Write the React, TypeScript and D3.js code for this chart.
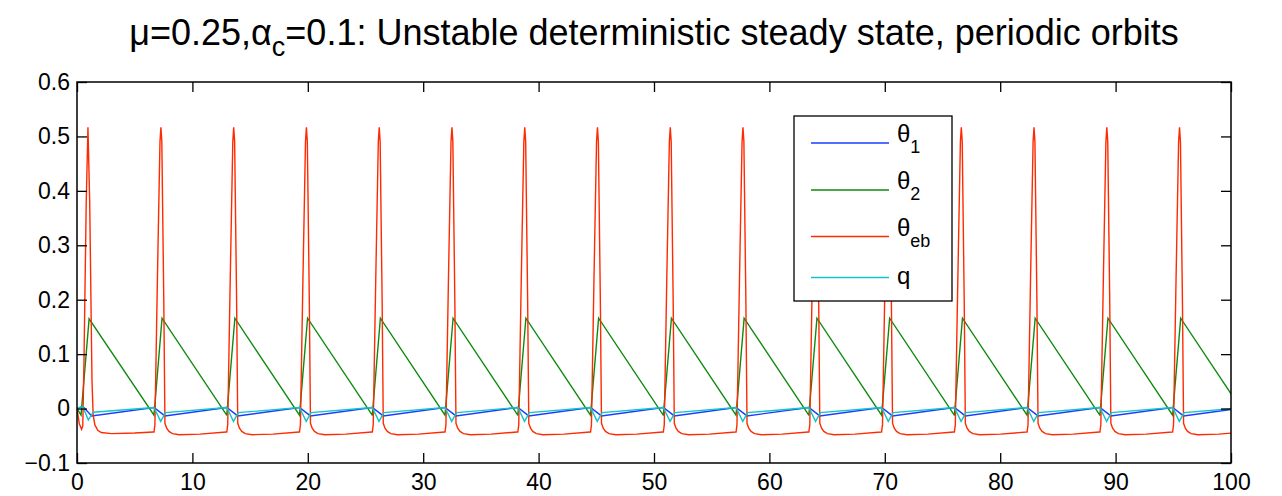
import React, { useEffect, useRef } from 'react';
import * as d3 from 'd3';

// time where each regular cycle begins (blue peak / red starts rising)
const cycleStarts = [6.67, 12.98, 19.28, 25.59, 31.89, 38.2, 44.5, 50.81, 57.11, 63.42, 69.72, 76.03, 82.33, 88.64, 94.94];

// first cycle from the initial condition (t, value)
const theta1Start = [[0, 0], [0.5, 0.004], [1.27, -0.0135]];
const theta2Start = [[0, 0], [0.35, -0.012], [1.05, 0.165]];
const thetaEbStart = [[0, 0], [0.2, -0.028], [0.4, -0.038], [0.5, -0.032], [0.6, 0.08], [0.8, 0.38], [0.95, 0.517], [1.1, 0.38], [1.3, 0.05], [1.4, -0.012], [1.55, -0.03], [1.8, -0.04], [2.1, -0.044], [3, -0.046], [5, -0.045], [6.6, -0.043]];
const qStart = [[0, 0], [0.5, 0.004], [0.98, -0.021], [1.4, -0.0067]];

// shape of one regular cycle (offset from cycle start, value)
const theta1Cycle = [[0, 0.002], [0.95, -0.0135], [6.3, 0.002]];
const theta2Cycle = [[0, -0.012], [0.7, 0.166], [6.3, -0.012]];
const thetaEbCycle = [[0, -0.043], [0.08, -0.03], [0.3, 0.24], [0.52, 0.49], [0.6, 0.517], [0.68, 0.49], [0.85, 0.2], [0.95, -0.027], [1.1, -0.036], [1.3, -0.042], [1.6, -0.046], [2.2, -0.048], [4, -0.047], [6.25, -0.043]];
const qCycle = [[0, 0.002], [0.58, -0.0235], [1.0, -0.0075], [6.3, 0.002]];

const xTicks = [0, 10, 20, 30, 40, 50, 60, 70, 80, 90, 100];
const yTicks = [-0.1, 0, 0.1, 0.2, 0.3, 0.4, 0.5, 0.6];

const seriesNames = ['θ1', 'θ2', 'θeb', 'q'];
const seriesSubs = ['1', '2', 'eb', ''];
const seriesColors = ['#1a3cff', '#0e8a0e', '#ff2a00', '#14c4c8'];

function build(start: number[][], cycle: number[][]) {
  const pts = start.slice();
  cycleStarts.forEach(s => cycle.forEach(([dt, v]) => pts.push([s + dt, v])));
  return pts;
}

export default function App() {
  const ref = useRef<SVGSVGElement>(null);

  useEffect(() => {
    const W = 1282, H = 496;
    const left = 77, right = 1231, top = 82, bottom = 463;
    const font = '"Liberation Sans", Arial, Helvetica, sans-serif';

    const svg = d3.select(ref.current);
    svg.selectAll('*').remove();

    const x = d3.scaleLinear().domain([0, 100]).range([left, right]);
    const y = d3.scaleLinear().domain([-0.1, 0.6]).range([bottom, top]);

    svg.append('rect').attr('width', W).attr('height', H).attr('fill', '#fff');

    svg.append('clipPath').attr('id', 'plot')
      .append('rect').attr('x', left).attr('y', top).attr('width', right - left).attr('height', bottom - top);

    const data = [
      build(theta1Start, theta1Cycle),
      build(theta2Start, theta2Cycle),
      build(thetaEbStart, thetaEbCycle),
      build(qStart, qCycle),
    ];

    const line = d3.line<number[]>().x(d => x(d[0])).y(d => y(d[1]));

    const g = svg.append('g').attr('clip-path', 'url(#plot)');
    data.forEach((d, i) => {
      g.append('path').attr('d', line(d)).attr('fill', 'none')
        .attr('stroke', seriesColors[i]).attr('stroke-width', 1.4);
    });

    const fmt = (d: number) => d === 0 ? '0' : d3.format('.1f')(d);

    const styleAxis = (sel: any) => {
      sel.select('.domain').remove();
      sel.selectAll('line').attr('stroke', '#000').attr('stroke-width', 1.3);
      sel.selectAll('text').attr('font-family', font).attr('font-size', 23).attr('fill', '#000');
    };

    svg.append('g').attr('transform', `translate(0,${bottom})`)
      .call(d3.axisBottom(x).tickValues(xTicks).tickSize(-10).tickPadding(11).tickFormat(d3.format('d') as any))
      .call(styleAxis);
    svg.append('g').attr('transform', `translate(0,${top})`)
      .call(d3.axisTop(x).tickValues(xTicks).tickSize(-10).tickFormat(() => ''))
      .call(styleAxis);
    svg.append('g').attr('transform', `translate(${left},0)`)
      .call(d3.axisLeft(y).tickValues(yTicks).tickSize(-10).tickPadding(7).tickFormat(fmt as any))
      .call(styleAxis);
    svg.append('g').attr('transform', `translate(${right},0)`)
      .call(d3.axisRight(y).tickValues(yTicks).tickSize(-10).tickFormat(() => ''))
      .call(styleAxis);

    svg.append('rect').attr('x', left).attr('y', top).attr('width', right - left).attr('height', bottom - top)
      .attr('fill', 'none').attr('stroke', '#000').attr('stroke-width', 1.5);

    // title
    const title = svg.append('text').attr('x', (left + right) / 2).attr('y', 45)
      .attr('text-anchor', 'middle').attr('font-family', font).attr('font-size', 36).attr('fill', '#000');
    title.append('tspan').text('μ=0.25,α');
    title.append('tspan').attr('font-size', 27).attr('dy', 11).text('c');
    title.append('tspan').attr('dy', -11).text('=0.1: Unstable deterministic steady state, periodic orbits');

    // legend
    const lg = svg.append('g');
    lg.append('rect').attr('x', 794).attr('y', 116).attr('width', 158).attr('height', 185)
      .attr('fill', '#fff').attr('stroke', '#000').attr('stroke-width', 1.3);
    const rowY = [143, 190, 236.5, 277.5];
    seriesNames.forEach((name, i) => {
      lg.append('line').attr('x1', 811).attr('x2', 889).attr('y1', rowY[i]).attr('y2', rowY[i])
        .attr('stroke', seriesColors[i]).attr('stroke-width', 1.4);
      const t = lg.append('text').attr('x', 897).attr('font-family', font).attr('font-size', 24).attr('fill', '#000');
      if (seriesSubs[i]) {
        t.attr('y', rowY[i] - 1);
        t.append('tspan').text('θ');
        t.append('tspan').attr('font-size', 18).attr('dy', 11).text(seriesSubs[i]);
      } else {
        t.attr('y', rowY[i] + 6).text(name);
      }
    });
  }, []);

  return <svg ref={ref} width={1282} height={496} style={{ display: 'block', position: 'absolute', left: 0, top: 0 }} />;
}
